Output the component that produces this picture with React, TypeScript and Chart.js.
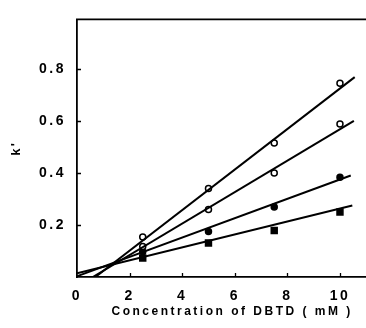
import { useEffect, useRef } from "react";
import { Chart, registerables } from "chart.js";

Chart.register(...registerables);

// Tick labels
const xTicks = [0, 2, 4, 6, 8, 10];
const yTicks = [0.2, 0.4, 0.6, 0.8];

// Measured points (concentration of DBTD, mM)
const concentrations = [2.5, 5, 7.5, 10];
const seriesOpenTop = [0.154, 0.34, 0.515, 0.745];
const seriesOpenLow = [0.117, 0.259, 0.4, 0.588];
const seriesFilledCircle = [0.097, 0.175, 0.269, 0.383];
const seriesFilledSquare = [0.073, 0.131, 0.179, 0.25];

// Fitted straight lines (start and end points)
const fitOpenTopX = [0.7, 10.56];
const fitOpenTopY = [0, 0.768];
const fitOpenLowX = [0.6, 10.53];
const fitOpenLowY = [0, 0.6];
const fitFilledCircleX = [0, 10.41];
const fitFilledCircleY = [0.003, 0.39];
const fitFilledSquareX = [0, 10.47];
const fitFilledSquareY = [0.014, 0.275];

const X_MAX = 11.8;
const Y_MAX = 0.99;

const toXY = (xs: number[], ys: number[]) => xs.map((x, i) => ({ x, y: ys[i] }));

const FONT = "'Liberation Sans', Arial, sans-serif";

const framePlugin = {
  id: "frame",
  beforeDraw(chart: any) {
    chart.ctx.letterSpacing = "2.5px";
  },
  afterDraw(chart: any) {
    const { ctx, chartArea: a, scales } = chart;
    ctx.save();
    ctx.letterSpacing = "0px";
    ctx.strokeStyle = "#000";
    ctx.lineWidth = 1.8;
    ctx.beginPath();
    ctx.moveTo(a.left - 1, a.top);
    ctx.lineTo(a.right, a.top);
    ctx.stroke();
    ctx.lineWidth = 1.3;
    ctx.beginPath();
    for (const t of scales.x.ticks) {
      const px = Math.round(scales.x.getPixelForValue(t.value)) + 0.5;
      if (t.value === 0) continue;
      ctx.moveTo(px, a.bottom);
      ctx.lineTo(px, a.bottom - 4);
    }
    for (const t of scales.y.ticks) {
      const py = Math.round(scales.y.getPixelForValue(t.value)) + 0.5;
      ctx.moveTo(a.left, py);
      ctx.lineTo(a.left + 4, py);
    }
    ctx.stroke();
    ctx.restore();
  },
};

export default function App() {
  const ref = useRef<HTMLCanvasElement>(null);

  useEffect(() => {
    const lineDs = (xs: number[], ys: number[]) => ({
      type: "line" as const,
      data: toXY(xs, ys),
      showLine: true,
      borderColor: "#000",
      borderWidth: 2,
      pointRadius: 0,
      fill: false,
    });
    const pointDs = (ys: number[], style: string, fillColor: string, r: number) => ({
      type: "scatter" as const,
      data: toXY(concentrations, ys),
      showLine: false,
      pointStyle: style,
      pointRadius: r,
      pointBackgroundColor: fillColor,
      pointBorderColor: "#000",
      pointBorderWidth: 1.5,
    });

    const chart = new Chart(ref.current!, {
      type: "scatter",
      data: {
        datasets: [
          lineDs(fitOpenTopX, fitOpenTopY),
          lineDs(fitOpenLowX, fitOpenLowY),
          lineDs(fitFilledCircleX, fitFilledCircleY),
          lineDs(fitFilledSquareX, fitFilledSquareY),
          pointDs(seriesOpenTop, "circle", "#fff", 3),
          pointDs(seriesOpenLow, "circle", "#fff", 3),
          pointDs(seriesFilledCircle, "circle", "#000", 3),
          pointDs(seriesFilledSquare, "rect", "#000", 4.2),
        ] as any,
      },
      options: {
        responsive: false,
        animation: false,
        layout: { padding: { top: 12, right: 0, left: 0, bottom: 0 } },
        plugins: {
          legend: { display: false },
          tooltip: { enabled: false },
        },
        scales: {
          x: {
            type: "linear",
            min: 0,
            max: X_MAX,
            grid: { display: false, drawTicks: false },
            border: { display: true, color: "#000", width: 1.8 },
            afterFit: (s: any) => {
              s.height = 51;
            },
            afterBuildTicks: (s: any) => {
              s.ticks = xTicks.map((v) => ({ value: v }));
            },
            ticks: {
              padding: 11,
              color: "#000",
              font: { family: FONT, size: 14, weight: "bold" },
              maxRotation: 0,
              callback: (v: any) => String(v),
            },
            title: {
              display: true,
              text: "Concentration of DBTD ( mM )",
              color: "#000",
              font: { family: FONT, size: 12, weight: "bold" },
              padding: { top: 0, bottom: 9 },
            },
          },
          y: {
            type: "linear",
            min: 0,
            max: Y_MAX,
            grid: { display: false, drawTicks: false },
            border: { display: true, color: "#000", width: 1.8 },
            afterFit: (s: any) => {
              s.width = 77;
            },
            afterBuildTicks: (s: any) => {
              s.ticks = yTicks.map((v) => ({ value: v }));
            },
            ticks: {
              padding: 11,
              color: "#000",
              font: { family: FONT, size: 14, weight: "bold" },
              callback: (v: any) => Number(v).toFixed(1),
            },
            title: {
              display: true,
              text: "k'",
              color: "#000",
              font: { family: FONT, size: 13, weight: "bold" },
              padding: { top: 9, bottom: 0 },
            },
          },
        },
      },
      plugins: [framePlugin],
    });
    return () => chart.destroy();
  }, []);

  return (
    <div
      style={{
        position: "absolute",
        left: 0,
        top: 0,
        width: 366,
        height: 328,
        overflow: "hidden",
        background: "#fff",
      }}
    >
      <canvas ref={ref} width={393} height={328} style={{ display: "block" }} />
    </div>
  );
}
